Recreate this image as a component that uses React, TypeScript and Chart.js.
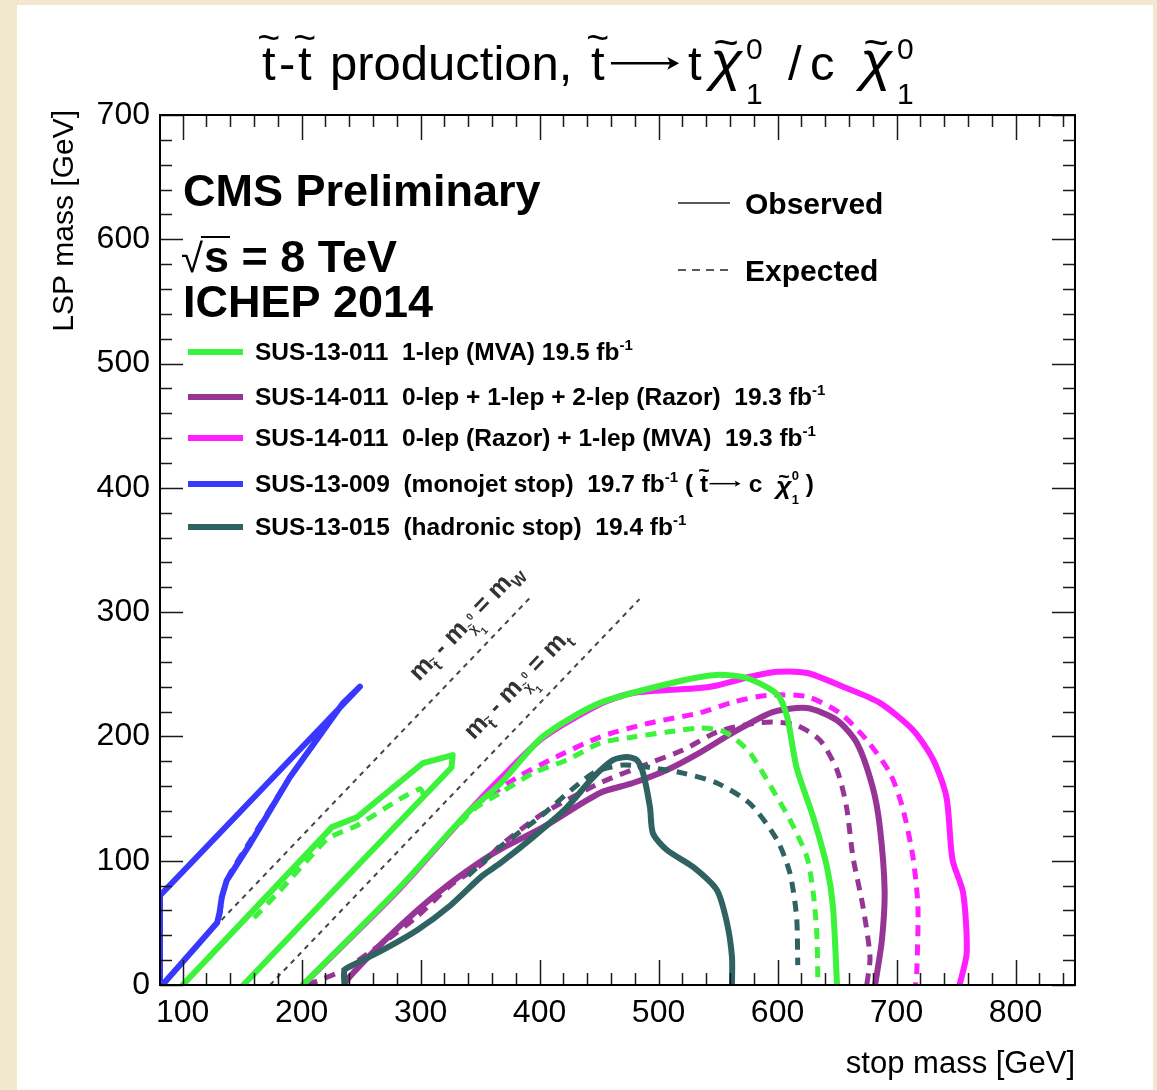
import React, { useEffect, useRef } from "react";
import { Chart, registerables } from "chart.js";

Chart.register(...registerables);

const W = 1157;
const H = 1090;
const FONT = '"Liberation Sans", "DejaVu Sans", Arial, sans-serif';

// ---- axes ----
const X_MIN = 81;
const X_MAX = 850;
const Y_MIN = 0;
const Y_MAX = 700;
const xTickValues = [100, 200, 300, 400, 500, 600, 700, 800];
const yTickValues = [0, 100, 200, 300, 400, 500, 600, 700];
const xMinorStep = 20;
const yMinorStep = 20;

// ---- colours ----
const GREEN = "#3cf23a";
const PURPLE = "#973597";
const MAGENTA = "#ff1eff";
const BLUE = "#3838ff";
const TEAL = "#306262";
const DIAG = "#444444";

type P = [number, number];

// ---- SUS-13-009 monojet (blue) ----
const monojetObs: P[] = [
  [81, 0], [81, 72], [249, 240], [235, 227], [190, 167], [157, 114],
  [137, 84], [133, 71], [131, 58], [129, 50], [83, 0],
];
const monojetExp: P[] = [[131, 55], [134, 74], [139, 88], [157, 116], [188, 164]];

// ---- SUS-13-011 1-lep MVA (green) ----
const oneLepObsA: P[] = [
  [100, 0], [225.5, 127], [246.5, 135], [302, 178.6], [327, 185], [326, 175], [151, 0],
];
const oneLepObsB: P[] = [
  [201, 0], [283, 79], [339, 138], [367, 162], [403, 200], [451, 227], [520, 245],
  [549, 249.5], [574, 247], [599.5, 234], [608, 216], [616, 175], [630, 135],
  [641.5, 95], [646.6, 63], [650, 0],
];
const oneLepExpA: P[] = [
  [160, 54], [180, 74], [222, 118], [246, 128], [285, 151], [300, 158], [303, 152],
];
const oneLepExpB: P[] = [
  [333, 130], [347, 143], [367, 154.5], [394.5, 170.5], [423, 181], [451, 194.7],
  [478.5, 199.5], [507, 203.5], [535, 206.7], [552, 205], [562.5, 199.5], [577, 186.6],
  [596, 157], [610.4, 133], [624.7, 103], [630, 74], [633, 42], [634, 0],
];

// ---- SUS-14-011 0-lep(Razor)+1-lep(MVA) (magenta) ----
const mvaRazorObs: P[] = [
  [201, 0], [283, 78], [339, 138], [367, 166], [403, 199], [451, 226], [478.5, 235],
  [535, 239], [549, 241], [577, 248], [599.5, 252], [625, 251], [655, 240], [686, 227],
  [714, 205], [731, 181], [742, 151], [747, 101], [756, 74], [759, 26], [753, 0],
];
const mvaRazorExp: P[] = [
  [345, 145], [356, 151], [381, 167], [408.7, 181], [450.7, 199.5], [492.6, 210.8],
  [534.8, 219], [562.5, 227.6], [591, 233], [624.7, 232], [652.4, 218.8], [675, 197],
  [694.5, 170.5], [705, 143], [713.8, 103], [718, 63], [717, 10], [716, 0],
];

// ---- SUS-14-011 Razor 0+1+2 lep (purple) ----
const razorObs: P[] = [
  [236, 0], [238, 4], [268, 34], [297, 60], [325, 82], [352.4, 100.6], [366.7, 109],
  [403, 127], [450.7, 154.5], [478.5, 162.5], [507, 173], [534.8, 187], [562.5, 203],
  [596, 219.6], [624.7, 222.8], [650, 213], [666.7, 194.7], [680, 159], [686, 127],
  [690, 76], [687.7, 36], [682, 0],
];
const razorExp: P[] = [
  [204.5, 0], [235, 12], [268.4, 34], [297, 55], [325, 80], [352.4, 98], [366.7, 112],
  [403, 138], [450.7, 162.5], [492.6, 178.6], [520.5, 189], [549, 203.5], [576.8, 210],
  [596, 211.6], [616, 209], [635.6, 197], [650, 173], [658, 143], [663.4, 103],
  [671.8, 63], [677.7, 22.5], [675, 0],
];

// ---- SUS-13-015 hadronic stop (teal) ----
const hadronicObs: P[] = [
  [236, 0], [236, 12], [241, 15], [268, 28], [297, 44], [325, 64], [352, 88], [367, 98],
  [394.5, 119], [423, 143], [445, 167], [461.7, 181], [473.4, 183.4], [481.8, 181],
  [487, 170.5], [492.8, 143], [495.3, 122], [507, 108.6], [529, 95], [549, 76.4],
  [557.5, 50], [561.7, 22.5], [561.7, 0],
];
const hadronicExp: P[] = [
  [340, 88], [366.7, 111], [400, 135], [445, 170.5], [470, 177], [492.8, 175],
  [520.5, 170.5], [549, 162.5], [576.8, 146], [599.5, 117], [610.4, 90], [616, 55], [617, 16],
];

// ---- kinematic lines ----
const M_W = 80.4;
const M_TOP = 173.5;
const mWLine: P[] = [[M_W, 0], [392, 392 - M_W]];
const mTopLine: P[] = [[M_TOP, 0], [484, 484 - M_TOP]];

// ---- rich text helpers ----
type Seg = {
  t: string;
  size: number;
  bold?: boolean;
  italic?: boolean;
  dy?: number;
  x?: number; // absolute start position (in current frame)
  sx?: number; // horizontal stretch
  tilde?: number; // offset factor above baseline for tilde
  noAdv?: boolean;
  arrowW?: number; // draw a drawn arrow of this width instead of text
};

function drawRich(ctx: CanvasRenderingContext2D, segs: Seg[], x: number, y: number) {
  let cx = x;
  ctx.textAlign = "left";
  ctx.textBaseline = "alphabetic";
  for (const s of segs) {
    if (s.x !== undefined) cx = s.x;
    const yy = y + (s.dy ?? 0);
    if (s.arrowW !== undefined) {
      const ay = yy - s.size * 0.34;
      const lw = Math.max(1.5, s.size * (s.bold ? 0.075 : 0.05));
      const hl = s.size * 0.24;
      const hw = s.size * 0.13;
      const x0 = cx + s.size * 0.06;
      const x1 = cx + s.arrowW - s.size * 0.06;
      ctx.save();
      ctx.strokeStyle = ctx.fillStyle as string;
      ctx.lineWidth = lw;
      ctx.beginPath();
      ctx.moveTo(x0, ay);
      ctx.lineTo(x1 - hl * 0.6, ay);
      ctx.stroke();
      ctx.beginPath();
      ctx.moveTo(x1, ay);
      ctx.lineTo(x1 - hl, ay - hw);
      ctx.lineTo(x1 - hl * 0.75, ay);
      ctx.lineTo(x1 - hl, ay + hw);
      ctx.closePath();
      ctx.fill();
      ctx.restore();
      if (!s.noAdv) cx += s.arrowW;
      continue;
    }
    ctx.font = `${s.italic ? "italic " : ""}${s.bold ? "bold " : ""}${s.size}px ${FONT}`;
    const sx = s.sx ?? 1;
    const w = ctx.measureText(s.t).width * sx;
    ctx.save();
    ctx.translate(cx, yy);
    ctx.scale(sx, 1);
    ctx.fillText(s.t, 0, 0);
    ctx.restore();
    if (s.tilde !== undefined) {
      ctx.save();
      ctx.font = `${s.bold ? "bold " : ""}${s.size * 0.8}px ${FONT}`;
      ctx.textAlign = "center";
      ctx.fillText("~", cx + w / 2, yy - s.size * s.tilde);
      ctx.restore();
    }
    if (!s.noAdv) cx += w;
  }
  return cx;
}

const TS = 49;
const titleSegs: Seg[] = [
  { t: "t", size: TS, tilde: 0.6, x: 262 },
  { t: "-", size: TS, x: 279 },
  { t: "t", size: TS, tilde: 0.6, x: 298 },
  { t: "production,", size: TS, x: 330 },
  { t: "t", size: TS, tilde: 0.6, x: 591 },
  { t: "", size: TS, x: 608, arrowW: 74 },
  { t: "t", size: TS, x: 688 },
  { t: "\u03c7", size: 54, italic: true, tilde: 0.42, x: 710, sx: 1.1 },
  { t: "0", size: 30, dy: -21, x: 746, noAdv: true },
  { t: "1", size: 30, dy: 24, x: 746 },
  { t: "/", size: TS, x: 788 },
  { t: "c", size: TS, x: 810 },
  { t: "\u03c7", size: 54, italic: true, tilde: 0.42, x: 860, sx: 1.1 },
  { t: "0", size: 30, dy: -21, x: 897, noAdv: true },
  { t: "1", size: 30, dy: 24, x: 897 },
];

const LS = 24.5;
const b = (t: string): Seg => ({ t, size: LS, bold: true });
const inv = (): Seg => ({ t: "-1", size: 15, bold: true, dy: -10 });
const legendColors = [GREEN, PURPLE, MAGENTA, BLUE, TEAL];
const legendLabels: Seg[][] = [
  [b("SUS-13-011  1-lep (MVA) 19.5 fb"), inv()],
  [b("SUS-14-011  0-lep + 1-lep + 2-lep (Razor)  19.3 fb"), inv()],
  [b("SUS-14-011  0-lep (Razor) + 1-lep (MVA)  19.3 fb"), inv()],
  [
    b("SUS-13-009  (monojet stop)  19.7 fb"), inv(), b(" ( "),
    { t: "t", size: LS, bold: true, tilde: 0.6 },
    { t: "", size: LS, bold: false, arrowW: 34 }, b(" c  "),
    { t: "\u03c7", size: LS, bold: true, italic: true, tilde: 0.45, dy: 2, sx: 1.1 },
    { t: "0", size: 13, bold: true, dy: -12, noAdv: true },
    { t: "1", size: 13, bold: true, dy: 12 }, b(" )"),
  ],
  [b("SUS-13-015  (hadronic stop)  19.4 fb"), inv()],
];
const legendRowY = [352, 397, 438, 484, 527];

const DL = 25;
const diagLabel = (sub: string): Seg[] => [
  { t: "m", size: DL, bold: true },
  { t: "t", size: 16, bold: true, dy: 7, tilde: 0.55 },
  { t: " - m", size: DL, bold: true },
  { t: "\u03c7", size: 13, bold: true, dy: 7, tilde: 0.45 },
  { t: "0", size: 10, bold: true, dy: -5, noAdv: true },
  { t: "1", size: 10, bold: true, dy: 15 },
  { t: " = m", size: DL, bold: true },
  { t: sub, size: 16, bold: true, dy: 7 },
];
const diagLabels = [
  { offset: M_W, atX: 312, segs: diagLabel("W") },
  { offset: M_TOP, atX: 358, segs: diagLabel("t") },
];

// ---- datasets ----
const mk = (
  label: string, data: P[], color: string, dashed: boolean, order: number,
  tension = 0.25, width?: number, dash?: number[]
) => ({
  label,
  data: data.map(([x, y]) => ({ x, y })),
  borderColor: color,
  backgroundColor: color,
  borderWidth: width ?? (dashed ? 5 : 6),
  borderDash: dash ?? (dashed ? [11, 8] : []),
  pointRadius: 0,
  pointHoverRadius: 0,
  showLine: true,
  fill: false,
  tension,
  order,
  borderJoinStyle: "round" as const,
  borderCapStyle: dashed ? ("butt" as const) : ("round" as const),
});

const datasets = [
  mk("mW", mWLine, DIAG, true, 100, 0, 2, [5, 5]),
  mk("mTop", mTopLine, DIAG, true, 100, 0, 2, [5, 5]),
  mk("monojet exp", monojetExp, BLUE, true, 91, 0.2),
  mk("monojet obs", monojetObs, BLUE, false, 90, 0),
  mk("razor exp", razorExp, PURPLE, true, 70),
  mk("razor obs", razorObs, PURPLE, false, 65),
  mk("mva exp", mvaRazorExp, MAGENTA, true, 60),
  mk("mva obs", mvaRazorObs, MAGENTA, false, 55),
  mk("hadronic exp", hadronicExp, TEAL, true, 45),
  mk("hadronic obs", hadronicObs, TEAL, false, 40),
  mk("1lep exp A", oneLepExpA, GREEN, true, 30, 0.1),
  mk("1lep exp B", oneLepExpB, GREEN, true, 30),
  mk("1lep obs A", oneLepObsA, GREEN, false, 10, 0),
  mk("1lep obs B", oneLepObsB, GREEN, false, 10),
];

const overlayPlugin = {
  id: "cmsOverlay",
  beforeDraw(chart: any) {
    const ctx: CanvasRenderingContext2D = chart.ctx;
    ctx.save();
    ctx.fillStyle = "#f1e8cf";
    ctx.fillRect(0, 0, W, H);
    ctx.fillStyle = "#ffffff";
    ctx.fillRect(17, 5, 1136, H - 5);
    ctx.restore();
  },
  afterDatasetsDraw(chart: any) {
    const ctx: CanvasRenderingContext2D = chart.ctx;
    const { left, right, top, bottom } = chart.chartArea;
    const xs = chart.scales.x;
    const ys = chart.scales.y;
    ctx.save();
    ctx.strokeStyle = "#1a1a1a";
    ctx.lineWidth = 1.5;
    ctx.beginPath();
    for (let v = Math.ceil(X_MIN / xMinorStep) * xMinorStep; v <= X_MAX; v += xMinorStep) {
      const px = Math.round(xs.getPixelForValue(v)) + 0.5;
      const len = v % 100 === 0 ? 25 : 12;
      ctx.moveTo(px, bottom);
      ctx.lineTo(px, bottom - len);
      ctx.moveTo(px, top);
      ctx.lineTo(px, top + len);
    }
    for (let v = Y_MIN; v <= Y_MAX; v += yMinorStep) {
      const py = Math.round(ys.getPixelForValue(v)) + 0.5;
      const len = v % 100 === 0 ? 23 : 12;
      ctx.moveTo(left, py);
      ctx.lineTo(left + len, py);
      ctx.moveTo(right, py);
      ctx.lineTo(right - len, py);
    }
    ctx.stroke();
    ctx.lineWidth = 2;
    ctx.strokeStyle = "#000";
    ctx.strokeRect(left, top, right - left, bottom - top);
    ctx.restore();
  },
  afterDraw(chart: any) {
    const ctx: CanvasRenderingContext2D = chart.ctx;
    const xs = chart.scales.x;
    const ys = chart.scales.y;
    ctx.save();
    ctx.fillStyle = "#000";

    // title
    drawRich(ctx, titleSegs, 262, 80);

    // axis titles
    ctx.font = `31px ${FONT}`;
    ctx.textAlign = "right";
    ctx.textBaseline = "alphabetic";
    ctx.fillText("stop mass [GeV]", 1075, 1073);
    ctx.save();
    ctx.translate(73, 110);
    ctx.rotate(-Math.PI / 2);
    ctx.textAlign = "right";
    ctx.font = `30px ${FONT}`;
    ctx.fillText("LSP mass [GeV]", 0, 0);
    ctx.restore();

    // CMS labels
    ctx.textAlign = "left";
    ctx.font = `bold 45px ${FONT}`;
    ctx.fillText("CMS Preliminary", 183, 206);
    ctx.font = `40px ${FONT}`;
    const rw = ctx.measureText("\u221a").width;
    ctx.fillText("\u221a", 181, 272);
    ctx.font = `bold 45px ${FONT}`;
    const sw = ctx.measureText("s").width;
    ctx.fillText("s = 8 TeV", 181 + rw + 1, 272);
    ctx.fillRect(181 + rw - 2, 236, sw + 4, 2);
    ctx.fillText("ICHEP 2014", 183, 317);

    // observed / expected
    ctx.font = `bold 30px ${FONT}`;
    ctx.fillText("Observed", 745, 214);
    ctx.fillText("Expected", 745, 281);
    ctx.strokeStyle = "#222";
    ctx.lineWidth = 1.5;
    ctx.beginPath();
    ctx.moveTo(678, 203);
    ctx.lineTo(730, 203);
    ctx.stroke();
    ctx.setLineDash([8, 6]);
    ctx.beginPath();
    ctx.moveTo(678, 270);
    ctx.lineTo(730, 270);
    ctx.stroke();
    ctx.setLineDash([]);

    // legend
    legendLabels.forEach((segs, i) => {
      const y = legendRowY[i];
      ctx.strokeStyle = legendColors[i];
      ctx.lineWidth = 6;
      ctx.beginPath();
      ctx.moveTo(188, y);
      ctx.lineTo(243, y);
      ctx.stroke();
      ctx.fillStyle = "#000";
      drawRich(ctx, segs, 255, y + 8);
    });

    // kinematic line labels
    const ang = Math.atan2(
      ys.getPixelForValue(100) - ys.getPixelForValue(0),
      xs.getPixelForValue(100) - xs.getPixelForValue(0)
    );
    ctx.fillStyle = "#333";
    diagLabels.forEach((d) => {
      ctx.save();
      ctx.translate(xs.getPixelForValue(d.atX), ys.getPixelForValue(d.atX - d.offset));
      ctx.rotate(ang);
      drawRich(ctx, d.segs, 0, -22);
      ctx.restore();
    });
    ctx.restore();
  },
};

export default function App() {
  const ref = useRef<HTMLCanvasElement>(null);
  useEffect(() => {
    const canvas = ref.current;
    if (!canvas) return;
    const chart = new Chart(canvas, {
      type: "scatter",
      data: { datasets: datasets as any },
      options: {
        responsive: false,
        maintainAspectRatio: false,
        animation: false,
        devicePixelRatio: 1,
        layout: { padding: { left: 0, top: 115, right: 82, bottom: 0 } },
        plugins: {
          legend: { display: false },
          tooltip: { enabled: false },
          title: { display: false },
        },
        events: [],
        scales: {
          x: {
            type: "linear",
            min: X_MIN,
            max: X_MAX,
            afterBuildTicks: (s: any) => {
              s.ticks = xTickValues.map((v) => ({ value: v }));
            },
            afterFit: (s: any) => {
              s.height = 105;
            },
            grid: { display: false, drawTicks: false },
            border: { display: false },
            ticks: {
              autoSkip: false,
              maxRotation: 0,
              padding: 9,
              color: "#000",
              font: { size: 32, family: FONT },
              callback: (v: any) => String(v),
            },
          },
          y: {
            type: "linear",
            min: Y_MIN,
            max: Y_MAX,
            afterBuildTicks: (s: any) => {
              s.ticks = yTickValues.map((v) => ({ value: v }));
            },
            afterFit: (s: any) => {
              s.width = 160;
            },
            grid: { display: false, drawTicks: false },
            border: { display: false },
            ticks: {
              autoSkip: false,
              padding: 10,
              color: "#000",
              font: { size: 32, family: FONT },
              callback: (v: any) => String(v),
            },
          },
        },
      },
      plugins: [overlayPlugin],
    });
    return () => chart.destroy();
  }, []);
  return (
    <div style={{ position: "absolute", left: 0, top: 0, width: W, height: H }}>
      <canvas ref={ref} width={W} height={H} style={{ width: W, height: H, display: "block" }} />
    </div>
  );
}
